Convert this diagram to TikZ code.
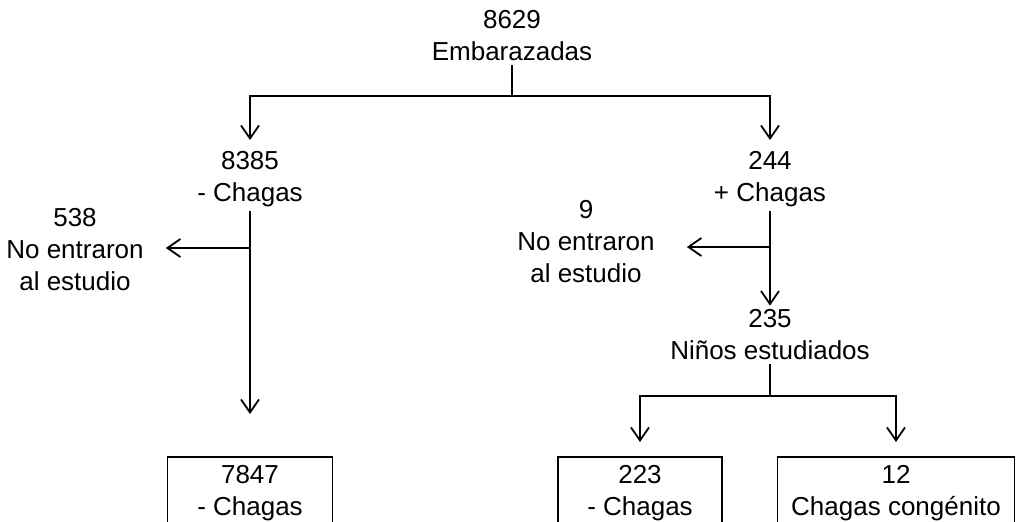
\documentclass[tikz,border=0pt]{standalone}
\usepackage{fontspec}
\setmainfont{Liberation Sans}
\usetikzlibrary{arrows.meta,positioning}
\tikzset{
  lbl/.style={align=center,inner sep=4pt,font=\fontsize{26}{32}\selectfont},
  cajon/.style={lbl,draw,line width=1.8pt,anchor=north,inner ysep=8pt},
  linea/.style={line width=1.6pt},
  flecha/.style={linea,-{Straight Barb[length=13pt,width=18pt,line width=1.8pt]}}
}
\begin{document}
\begin{tikzpicture}[x=1pt,y=-1pt]
\useasboundingbox (0,0) rectangle (1018,522);
\clip (0,0) rectangle (1018,522);
% nodos de texto
\node[lbl] (emb) at (512,36) {8629\\Embarazadas};
\node[lbl] (neg) at (250,179) {8385\\- Chagas};
\node[lbl] (pos) at (770,179) {244\\+ Chagas};
\node[lbl] (no1) at (75,250) {538\\No entraron\\al estudio};
\node[lbl] (no2) at (586,242) {9\\No entraron\\al estudio};
\node[lbl] (est) at (770,335) {235\\Ni\~nos estudiados};
% cajas
\node[cajon,minimum width=165] (c1) at (250,456) {7847\\- Chagas\\\mbox{}};
\node[cajon,minimum width=164] (c2) at (640,456) {223\\- Chagas\\\mbox{}};
\node[cajon,minimum width=237] (c3) at (896,456) {12\\Chagas cong\'enito\\\mbox{}};
% puntos de union
\coordinate (j1) at (512,96);
\coordinate (j2) at (770,396);
\coordinate (b1) at (250,248);
\coordinate (b2) at (770,247);
% conectores
\draw[linea] (emb) -- (j1);
\draw[flecha,shorten >=7pt] (j1) -| (neg);
\draw[flecha,shorten >=7pt] (j1) -| (pos);
\draw[flecha,shorten >=42pt] (neg) -- (c1);
\draw[flecha,shorten >=18pt] (b1) -- (b1 -| no1.east);
\draw[flecha] (pos) -- (est);
\draw[flecha,shorten >=28pt] (b2) -- (b2 -| no2.east);
\draw[linea] (est) -- (j2);
\draw[flecha,shorten >=14pt] (j2) -| (c2);
\draw[flecha,shorten >=14pt] (j2) -| (c3);
\end{tikzpicture}
\end{document}
